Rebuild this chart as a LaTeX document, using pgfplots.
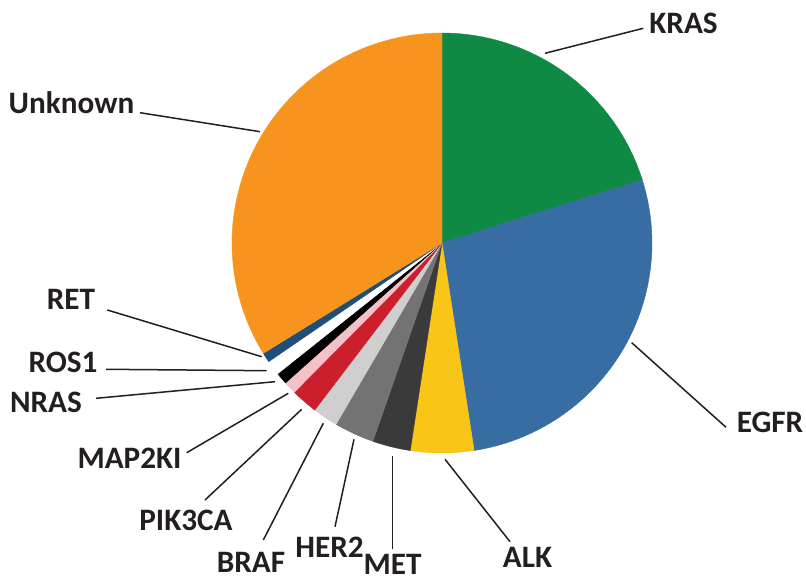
\documentclass[border=0pt]{standalone}
\usepackage{pgfplots}
\pgfplotsset{compat=1.18}
\usepackage{fontspec}
\setmainfont{Carlito}
\definecolor{cKRAS}{HTML}{0F8A44}
\definecolor{cEGFR}{HTML}{386DA3}
\definecolor{cALK}{HTML}{F9C516}
\definecolor{cMET}{HTML}{3A3A3A}
\definecolor{cHER}{HTML}{737373}
\definecolor{cBRAF}{HTML}{CFCFCF}
\definecolor{cPIK}{HTML}{CC1F2D}
\definecolor{cMAP}{HTML}{F4C2C6}
\definecolor{cNRAS}{HTML}{000000}
\definecolor{cROS}{HTML}{FFFFFF}
\definecolor{cRET}{HTML}{1F4E79}
\definecolor{cUNK}{HTML}{F7941D}
\definecolor{txt}{HTML}{231F20}
\tikzset{lab/.style={font=\fontsize{15.6}{18}\selectfont\bfseries, text=txt, inner sep=0pt, anchor=base}}
\begin{document}
\begin{tikzpicture}
\begin{axis}[
  x=0.5pt, y=0.5pt,
  xmin=-442, xmax=364, ymin=-340, ymax=243,
  hide axis, clip=false,
]
\path (rel axis cs:0,0) rectangle (rel axis cs:1,1);
% slices: start and end angle (degrees, clockwise from 12 o'clock); share = (end-start)/360
% KRAS 20.1%, EGFR 27.4%, ALK 4.9%, MET 2.9%, HER2 3.1%, BRAF 1.9%, PIK3CA 2.1%,
% MAP2KI 1.0%, NRAS 0.9%, ROS1 1.1%, RET 0.75%, Unknown 33.8%
\addplot[draw=cKRAS, line width=0.2pt, fill=cKRAS, domain=0:72.5, samples=40] ({210*sin(x)},{210*cos(x)}) -- (axis cs:0,0) -- cycle;
\addplot[draw=cEGFR, line width=0.2pt, fill=cEGFR, domain=72.5:171.2, samples=50] ({210*sin(x)},{210*cos(x)}) -- (axis cs:0,0) -- cycle;
\addplot[draw=cALK, line width=0.2pt, fill=cALK, domain=171.2:188.7, samples=12] ({210*sin(x)},{210*cos(x)}) -- (axis cs:0,0) -- cycle;
\addplot[draw=cMET, line width=0.2pt, fill=cMET, domain=188.7:199.2, samples=10] ({210*sin(x)},{210*cos(x)}) -- (axis cs:0,0) -- cycle;
\addplot[draw=cHER, line width=0.2pt, fill=cHER, domain=199.2:210.3, samples=10] ({210*sin(x)},{210*cos(x)}) -- (axis cs:0,0) -- cycle;
\addplot[draw=cBRAF, line width=0.2pt, fill=cBRAF, domain=210.3:217.3, samples=8] ({210*sin(x)},{210*cos(x)}) -- (axis cs:0,0) -- cycle;
\addplot[draw=cPIK, line width=0.2pt, fill=cPIK, domain=217.3:224.7, samples=8] ({210*sin(x)},{210*cos(x)}) -- (axis cs:0,0) -- cycle;
\addplot[draw=cMAP, line width=0.2pt, fill=cMAP, domain=224.7:228.2, samples=5] ({210*sin(x)},{210*cos(x)}) -- (axis cs:0,0) -- cycle;
\addplot[draw=cNRAS, line width=0.2pt, fill=cNRAS, domain=228.2:231.5, samples=5] ({210*sin(x)},{210*cos(x)}) -- (axis cs:0,0) -- cycle;
\addplot[draw=cROS, line width=0.2pt, fill=cROS, domain=231.5:235.6, samples=5] ({210*sin(x)},{210*cos(x)}) -- (axis cs:0,0) -- cycle;
\addplot[draw=cRET, line width=0.2pt, fill=cRET, domain=235.6:238.3, samples=5] ({210*sin(x)},{210*cos(x)}) -- (axis cs:0,0) -- cycle;
\addplot[draw=cUNK, line width=0.2pt, fill=cUNK, domain=238.3:360, samples=60] ({210*sin(x)},{210*cos(x)}) -- (axis cs:0,0) -- cycle;
% leader lines
\begin{scope}[line width=0.75pt, draw=txt]
\draw (axis cs:201.3,214.7) -- (axis cs:103,189.7);
\draw (axis cs:284,-184.3) -- (axis cs:189.7,-99.7);
\draw (axis cs:68,-298.7) -- (axis cs:3,-216.3);
\draw (axis cs:-49.7,-306) -- (axis cs:-49.7,-213);
\draw (axis cs:-107,-283.7) -- (axis cs:-88,-196.3);
\draw (axis cs:-178.7,-297) -- (axis cs:-118.7,-180.3);
\draw (axis cs:-237,-257) -- (axis cs:-140.3,-166.3);
\draw (axis cs:-255.3,-209.7) -- (axis cs:-153.7,-150.3);
\draw (axis cs:-346,-155.3) -- (axis cs:-167,-138.7);
\draw (axis cs:-336,-126.3) -- (axis cs:-175.3,-127.7);
\draw (axis cs:-334.7,-67) -- (axis cs:-180.3,-113.7);
\draw (axis cs:-302,130.3) -- (axis cs:-182,111.3);
\end{scope}
% labels
\node[lab] at (axis cs:241.5,209) {KRAS};
\node[lab] at (axis cs:328,-189) {EGFR};
\node[lab] at (axis cs:85.5,-324) {ALK};
\node[lab] at (axis cs:-49.5,-331) {MET};
\node[lab] at (axis cs:-112.5,-314) {HER2};
\node[lab] at (axis cs:-191,-329) {BRAF};
\node[lab] at (axis cs:-256,-287) {PIK3CA};
\node[lab] at (axis cs:-312.5,-225) {MAP2KI};
\node[lab] at (axis cs:-396,-170) {NRAS};
\node[lab] at (axis cs:-379,-130) {ROS1};
\node[lab] at (axis cs:-371,-67) {RET};
\node[lab] at (axis cs:-370.5,129) {Unknown};
\end{axis}
\end{tikzpicture}
\end{document}
